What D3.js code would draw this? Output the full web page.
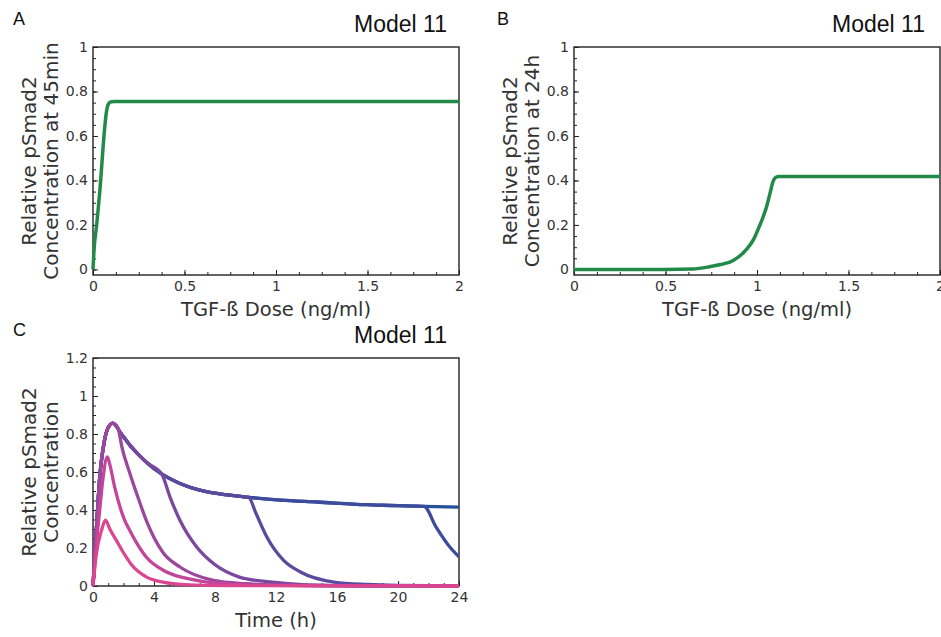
<!DOCTYPE html>
<html>
<head>
<meta charset="utf-8">
<script src="https://cdn.jsdelivr.net/npm/d3@7"></script>
<style>
  html, body { margin: 0; padding: 0; background: #fff; }
  svg { display: block; }
</style>
</head>
<body>
<script>
// ---- data ----

// panel A: pSmad2 at 45 min vs dose
const doseA = [0, 0.005, 0.02, 0.04, 0.06, 0.072, 0.085, 0.1, 0.12, 0.5, 1, 1.5, 2];
const valueA = [0, 0.08, 0.2, 0.38, 0.6, 0.7, 0.745, 0.754, 0.755, 0.755, 0.755, 0.755, 0.755];

// panel B: pSmad2 at 24 h vs dose
const doseB = [0, 0.5, 0.65, 0.74, 0.8, 0.87, 0.94, 0.98, 1.016, 1.034, 1.055, 1.071, 1.089, 1.1, 1.116, 1.5, 2];
const valueB = [0, 0, 0.002, 0.012, 0.022, 0.04, 0.088, 0.133, 0.2, 0.237, 0.29, 0.342, 0.398, 0.412, 0.418, 0.418, 0.418];

// panel C: time courses
const sustainedTime = [0, 0.2, 0.44, 0.76, 1.09, 1.29, 1.5, 1.77, 2.0, 2.43, 3.0, 3.52, 4.5, 5.7, 7.0, 7.9, 10.1, 12.3, 14.7, 17.9, 19.0, 21.7, 24];
const sustainedValue = [0, 0.27, 0.57, 0.77, 0.846, 0.857, 0.845, 0.81, 0.785, 0.74, 0.69, 0.65, 0.59, 0.54, 0.505, 0.49, 0.468, 0.452, 0.442, 0.428, 0.425, 0.419, 0.415];

// washout times for the pulses that follow the sustained curve (null = no washout)
const washoutTimes = [null, 21.7, 10.2, 4.5, 1.66];
const decayTime = [
  [],
  [21.7, 22.5, 23.4, 24],
  [10.2, 10.7, 11.4, 12.5, 13.6, 15.8, 18, 20, 24],
  [4.5, 5.05, 5.7, 6.8, 7.9, 9.6, 11.6, 14, 18, 24],
  [1.66, 1.9, 2.43, 3.0, 3.52, 4.6, 5.7, 7.9, 10, 12, 16, 24]
];
const decayValue = [
  [],
  [0.419, 0.31, 0.205, 0.153],
  [0.467, 0.38, 0.258, 0.135, 0.074, 0.021, 0.008, 0.003, 0],
  [0.59, 0.468, 0.346, 0.205, 0.118, 0.047, 0.021, 0.006, 0.001, 0],
  [0.825, 0.73, 0.59, 0.455, 0.34, 0.175, 0.1, 0.03, 0.012, 0.005, 0.001, 0]
];

// the two weaker pulses
const pulse2Time = [0, 0.2, 0.44, 0.66, 0.94, 1.1, 1.42, 2.08, 2.43, 2.84, 3.52, 4.6, 6.8, 9, 12, 24];
const pulse2Value = [0, 0.2, 0.4, 0.57, 0.68, 0.64, 0.52, 0.346, 0.29, 0.23, 0.15, 0.083, 0.03, 0.01, 0.003, 0];
const pulse1Time = [0, 0.22, 0.55, 0.82, 1.1, 1.53, 2.0, 2.5, 3.52, 4.6, 6, 9, 24];
const pulse1Value = [0, 0.17, 0.29, 0.346, 0.3, 0.24, 0.175, 0.115, 0.047, 0.02, 0.007, 0.002, 0];

// drawn back to front: longest pulse first, shortest on top
const curveColors = ["#24509c", "#3c4b9c", "#5a4a9e", "#7a489e", "#9a479c", "#c2459a", "#dc4590"];

const W = 941, H = 637;
const fontTick = "'DejaVu Sans', sans-serif";
const fontTitle = "'Liberation Sans', Arial, sans-serif";
const green = "#228a48";
const textColor = "#333";

const svg = d3.select("body").append("svg")
  .attr("width", W)
  .attr("height", H);

/**
 * frame, inward ticks, labels for one panel
 */
function drawPanel(p) {
  const x = d3.scaleLinear().domain(p.xDomain).range([p.left, p.right]);
  const y = d3.scaleLinear().domain(p.yDomain).range([p.bottom, p.top]);
  const g = svg.append("g");

  // minor ticks
  g.append("g")
    .attr("transform", `translate(0,${p.bottom})`)
    .call(d3.axisBottom(x).tickValues(p.xMinor).tickSize(-3).tickFormat(""))
    .call(a => a.select(".domain").remove());
  g.append("g")
    .attr("transform", `translate(${p.left},0)`)
    .call(d3.axisLeft(y).tickValues(p.yMinor).tickSize(-3).tickFormat(""))
    .call(a => a.select(".domain").remove());

  // major ticks + labels
  const xa = g.append("g")
    .attr("transform", `translate(0,${p.bottom})`)
    .call(d3.axisBottom(x).tickValues(p.xMajor).tickSize(-5).tickPadding(6).tickFormat(d3.format("~g")));
  const ya = g.append("g")
    .attr("transform", `translate(${p.left},0)`)
    .call(d3.axisLeft(y).tickValues(p.yMajor).tickSize(-5).tickPadding(5).tickFormat(d3.format("~g")));
  [xa, ya].forEach(a => {
    a.select(".domain").remove();
    a.selectAll("text").attr("font-family", fontTick)
      .attr("font-size", 14).attr("fill", textColor);
  });
  g.selectAll(".tick line").attr("stroke", "#222").attr("stroke-width", 1);

  g.append("rect")
    .attr("x", p.left).attr("y", p.top)
    .attr("width", p.right - p.left).attr("height", p.bottom - p.top)
    .attr("fill", "none").attr("stroke", "#222").attr("stroke-width", 1.4);

  // axis titles
  g.append("text")
    .attr("x", (p.left + p.right) / 2).attr("y", p.bottom + 41)
    .attr("text-anchor", "middle")
    .attr("font-family", fontTick)
    .attr("font-size", 19.5).attr("fill", textColor)
    .text(p.xTitle);
  p.yTitle.forEach((t, i) => {
    g.append("text")
      .attr("transform", `translate(${p.yTitleX + i * 22},${(p.top + p.bottom) / 2}) rotate(-90)`)
      .attr("text-anchor", "middle")
      .attr("font-family", fontTick)
      .attr("font-size", 20).attr("fill", textColor)
      .text(t);
  });

  g.append("text")
    .attr("x", p.titleX).attr("y", p.top - 15)
    .attr("text-anchor", "end")
    .attr("font-family", fontTitle).attr("font-size", 23).attr("fill", "#111")
    .text("Model 11");
  g.append("text")
    .attr("x", p.letterX).attr("y", p.top - 22)
    .attr("font-family", fontTitle).attr("font-size", 18).attr("fill", "#111")
    .text(p.letter);

  return {g, x, y};
}

const doseMinor = d3.range(0, 2.0001, 0.125);
const doseMajor = [0, 0.5, 1, 1.5, 2];
const fracMajor = [0, 0.2, 0.4, 0.6, 0.8, 1];
const fracMinor = d3.range(0, 1.0001, 0.05);

const lineOf = (x, y) => d3.line().x(d => x(d[0])).y(d => y(d[1])).curve(d3.curveMonotoneX);

// ---- A ----
const A = drawPanel({
  left: 93, right: 459, top: 47, bottom: 275,
  xDomain: [0, 2], yDomain: [-0.025, 1],
  xMajor: doseMajor, xMinor: doseMinor, yMajor: fracMajor, yMinor: fracMinor,
  xTitle: "TGF-ß Dose (ng/ml)", yTitle: ["Relative pSmad2", "Concentration at 45min"], yTitleX: 36,
  titleX: 447, letter: "A", letterX: 13
});
A.g.append("path")
  .datum(doseA.map((d, i) => [d, valueA[i]]))
  .attr("fill", "none").attr("stroke", green).attr("stroke-width", 3.5)
  .attr("d", lineOf(A.x, A.y));

// ---- B ----
const B = drawPanel({
  left: 574, right: 940, top: 47, bottom: 275,
  xDomain: [0, 2], yDomain: [-0.025, 1],
  xMajor: doseMajor, xMinor: doseMinor, yMajor: fracMajor, yMinor: fracMinor,
  xTitle: "TGF-ß Dose (ng/ml)", yTitle: ["Relative pSmad2", "Concentration at 24h"], yTitleX: 517,
  titleX: 925, letter: "B", letterX: 497
});
B.g.append("path")
  .datum(doseB.map((d, i) => [d, valueB[i]]))
  .attr("fill", "none").attr("stroke", green).attr("stroke-width", 3.5)
  .attr("d", lineOf(B.x, B.y));

// ---- C ----
const C = drawPanel({
  left: 93, right: 459, top: 358, bottom: 586,
  xDomain: [0, 24], yDomain: [0, 1.2],
  xMajor: [0, 4, 8, 12, 16, 20, 24], xMinor: d3.range(0, 24.001, 1),
  yMajor: [0, 0.2, 0.4, 0.6, 0.8, 1, 1.2], yMinor: d3.range(0, 1.2001, 0.05),
  xTitle: "Time (h)", yTitle: ["Relative pSmad2", "Concentration"], yTitleX: 36,
  titleX: 447, letter: "C", letterX: 13
});

const sustained = sustainedTime.map((t, i) => [t, sustainedValue[i]]);
const series = washoutTimes.map((tw, k) => {
  if (tw === null) return sustained;
  return sustained.filter(d => d[0] < tw)
    .concat(decayTime[k].map((t, i) => [t, decayValue[k][i]]));
});
series.push(pulse2Time.map((t, i) => [t, pulse2Value[i]]));
series.push(pulse1Time.map((t, i) => [t, pulse1Value[i]]));

C.g.append("g")
  .selectAll("path")
  .data(series)
  .join("path")
  .attr("fill", "none")
  .attr("stroke", (d, i) => curveColors[i])
  .attr("stroke-width", 3.3)
  .attr("stroke-linejoin", "round")
  .attr("d", lineOf(C.x, C.y));
</script>
</body>
</html>
